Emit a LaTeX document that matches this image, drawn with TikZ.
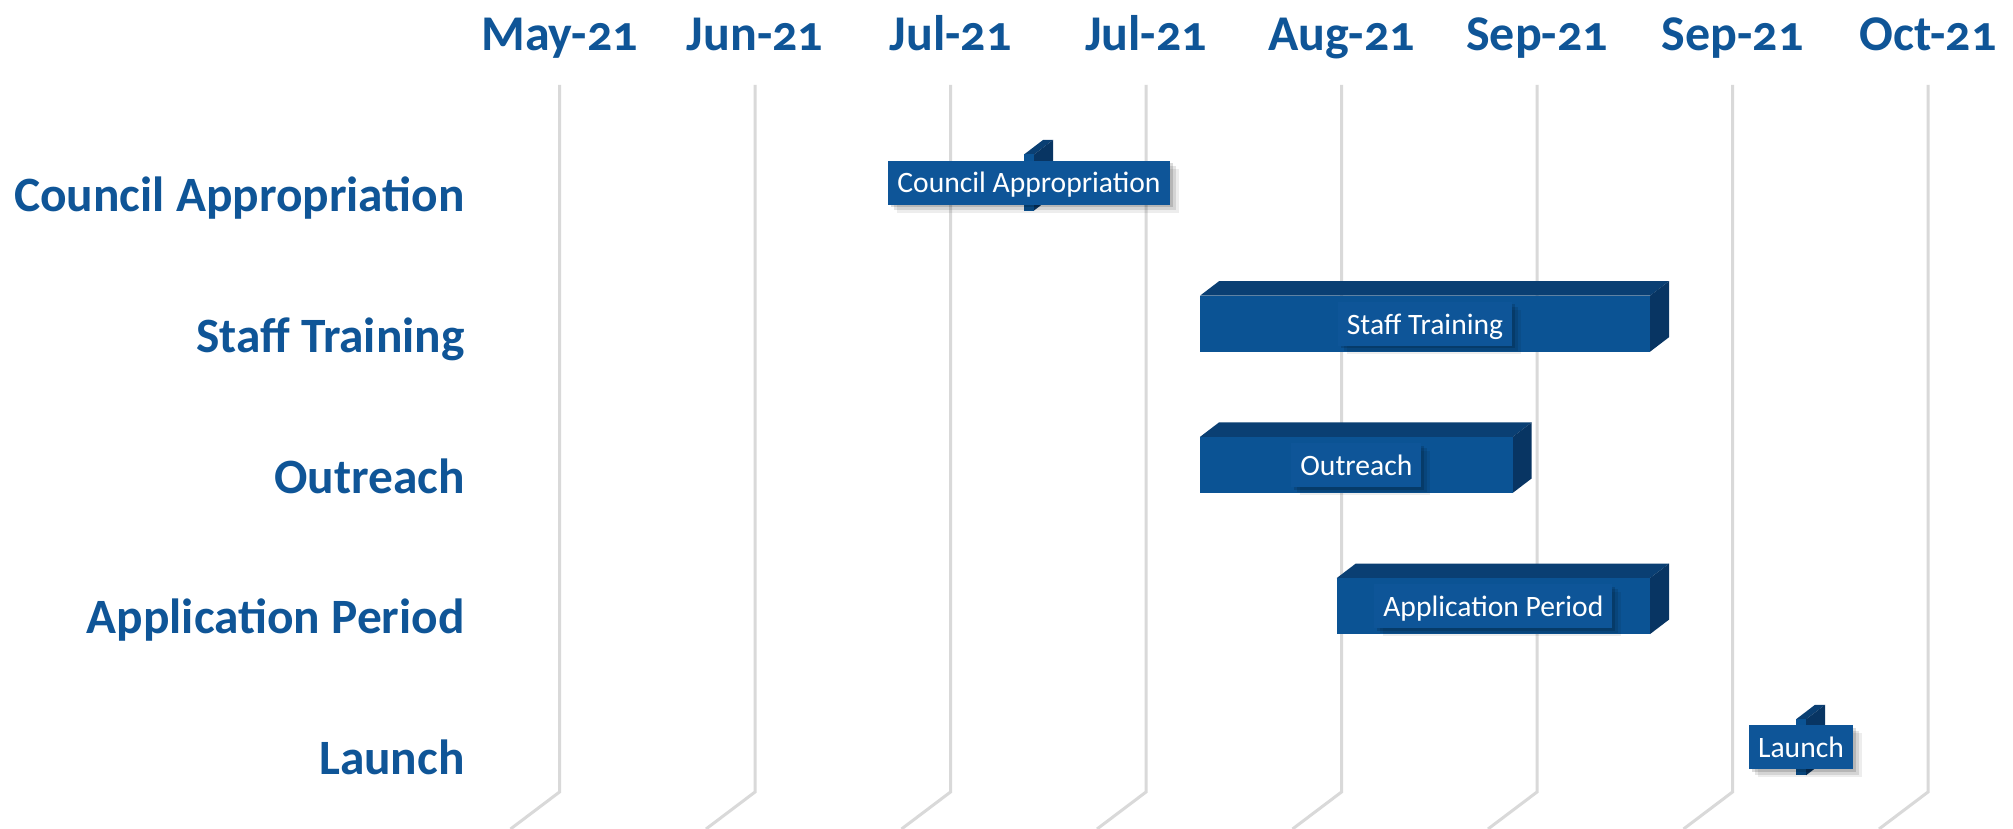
\documentclass[tikz,border=0pt]{standalone}
\usepackage{fontspec}
\setmainfont{Carlito}[Numbers=OldStyle]
\usetikzlibrary{shadows}
\definecolor{txtblue}{HTML}{0F5597}
\definecolor{barfront}{HTML}{0B5394}
\definecolor{bartop}{HTML}{0A3F73}
\definecolor{barside}{HTML}{083563}
\definecolor{lblblue}{HTML}{0E5598}
\definecolor{gridgray}{HTML}{D9D9D9}
\tikzset{
  gridline/.style={draw=gridgray, line width=1.5pt},
  month/.style={anchor=base, text=txtblue, font=\fontsize{25}{30}\selectfont\bfseries, inner sep=0pt},
  rowlabel/.style={anchor=base east, text=txtblue, font=\fontsize{24.7}{30}\selectfont\bfseries, inner sep=0pt},
  frontface/.style={fill=barfront},
  topface/.style={fill=bartop},
  sideface/.style={fill=barside},
  barlabel/.style={fill=lblblue, text=white, font=\fontsize{14.8}{18}\selectfont,
    inner xsep=4.5pt, inner ysep=0pt, minimum height=22pt, text height=10.3pt, text depth=0pt,
    general shadow={fill=black, opacity=0.07, shadow xshift=4.5pt, shadow yshift=-4pt},
    general shadow={fill=black, opacity=0.10, shadow xshift=3pt, shadow yshift=-2.6pt},
    general shadow={fill=black, opacity=0.14, shadow xshift=1.5pt, shadow yshift=-1.3pt}}
}
\newcommand{\ganttbox}[5]{% name, x1, x2, ytop, label
  \fill[topface] (#2,#4) -- ({#2+19},{#4-14.5}) -- ({#3+19},{#4-14.5}) -- (#3,#4) -- cycle;
  \fill[sideface] (#3,#4) -- ({#3+19},{#4-14.5}) -- ({#3+19},{#4+41.5}) -- (#3,{#4+56}) -- cycle;
  \fill[frontface] (#2,#4) rectangle (#3,{#4+56});
  \coordinate (#1c) at ({(#2+#3)/2},{#4+28});
  \node[barlabel] (#1) at (#1c) {#5};
}
\begin{document}
\begin{tikzpicture}[x=0.5pt,y=-0.5pt]
\useasboundingbox (0,0) rectangle (2013,829);
\fill[white] (0,0) rectangle (2013,829);
% gridlines and month labels
\foreach \i/\m in {0/May-21,1/Jun-21,2/Jul-21,3/Jul-21,4/Aug-21,5/Sep-21,6/Sep-21,7/Oct-21}{
  \pgfmathsetmacro\gx{559.5+195.5*\i}
  \draw[gridline] (\gx,85) -- (\gx,792) -- ({\gx-49},829);
  \node[month] (m\i) at (\gx,50.5) {\m};
}
% row labels
\node[rowlabel] (r1) at (465,211.7) {Council Appropriation};
\node[rowlabel] (r2) at (465,352.4) {Staff Training};
\node[rowlabel] (r3) at (465,493.1) {Outreach};
\node[rowlabel] (r4) at (465,633.8) {Application Period};
\node[rowlabel] (r5) at (465,774.5) {Launch};
% bars
\ganttbox{b1}{1024}{1034}{154.5}{Council Appropriation}
\ganttbox{b2}{1200}{1650}{295.7}{Staff Training}
\ganttbox{b3}{1200}{1512.7}{436.9}{Outreach}
\ganttbox{b4}{1336.7}{1650}{578.1}{Application Period}
\ganttbox{b5}{1796}{1806}{719.3}{Launch}
\end{tikzpicture}
\end{document}
